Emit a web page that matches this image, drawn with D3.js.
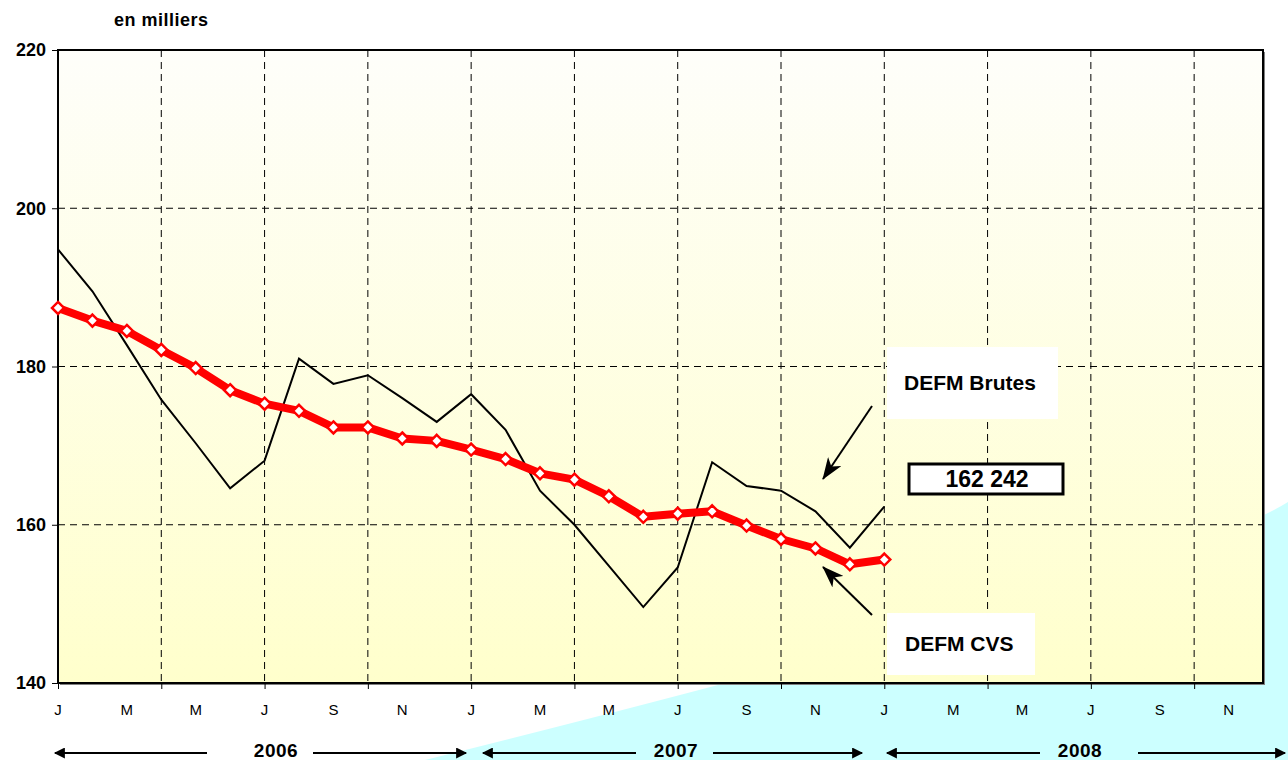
<!DOCTYPE html>
<html>
<head>
<meta charset="utf-8">
<script src="https://cdn.jsdelivr.net/npm/d3@7"></script>
<style>
  html, body { margin: 0; padding: 0; background: #fff; }
  svg { display: block; font-family: Arial, "Liberation Sans", sans-serif; }
</style>
</head>
<body>
<svg id="chart" width="1288" height="760"></svg>
<script>
// DEFM, en milliers — Jan 2006 .. Jan 2008 (monthly), axis runs to Dec 2008
const monthLabels = ["J", "F", "M", "A", "M", "J", "J", "A", "S", "O", "N", "D"];
const years = ["2006", "2007", "2008"];
const yTicks = [140, 160, 180, 200, 220];

const brutes = [194.8, 189.5, 182.7, 175.8, 170.3, 164.6, 168.1, 181.0, 177.8, 178.9, 176.0, 173.0,
  176.5, 172.0, 164.3, 160.0, 154.8, 149.6, 154.6, 167.9, 164.9, 164.3, 161.7, 157.1, 162.3];
const cvs = [187.4, 185.8, 184.5, 182.1, 179.8, 177.0, 175.3, 174.4, 172.3, 172.3, 170.9, 170.6,
  169.5, 168.3, 166.5, 165.7, 163.6, 161.0, 161.4, 161.7, 159.9, 158.2, 157.0, 155.0, 155.6];
const lastValue = "162 242";

const svg = d3.select("#chart");
const M = { left: 58, right: 1263, top: 50, bottom: 683 };

const x = d3.scaleLinear().domain([0, 35]).range([M.left, M.right]);
const y = d3.scaleLinear().domain([140, 220]).range([M.bottom, M.top]);

const defs = svg.append("defs");
const grad = defs.append("linearGradient").attr("id", "bg")
  .attr("x1", 0).attr("y1", 0).attr("x2", 0).attr("y2", 1);
grad.append("stop").attr("offset", "0%").attr("stop-color", "#fefefa");
grad.append("stop").attr("offset", "100%").attr("stop-color", "#ffffcc");

// cyan swoosh behind the plot
svg.append("path")
  .attr("d", "M425,760 Q1174,573 1288,502 L1288,760 Z")
  .attr("fill", "#ccffff");

// plot panel with a soft shadow
svg.append("rect")
  .attr("x", M.left + 2).attr("y", M.top + 2)
  .attr("width", M.right - M.left).attr("height", M.bottom - M.top)
  .attr("fill", "#808080");
svg.append("rect")
  .attr("x", M.left).attr("y", M.top)
  .attr("width", M.right - M.left).attr("height", M.bottom - M.top)
  .attr("fill", "url(#bg)");

// grid
const months = d3.range(0, 36);
svg.append("g").selectAll("line")
  .data(months.filter((m) => m % 3 === 0 && m > 0))
  .join("line")
  .attr("x1", (d) => x(d)).attr("x2", (d) => x(d))
  .attr("y1", M.top).attr("y2", M.bottom)
  .attr("stroke", "#000").attr("stroke-width", 1).attr("stroke-dasharray", "7,5");
svg.append("g").selectAll("line")
  .data(yTicks.filter((v) => v > 140 && v < 220))
  .join("line")
  .attr("x1", M.left).attr("x2", M.right)
  .attr("y1", (d) => y(d)).attr("y2", (d) => y(d))
  .attr("stroke", "#000").attr("stroke-width", 1).attr("stroke-dasharray", "7,5");

// frame
svg.append("rect")
  .attr("x", M.left).attr("y", M.top)
  .attr("width", M.right - M.left).attr("height", M.bottom - M.top)
  .attr("fill", "none").attr("stroke", "#000").attr("stroke-width", 2);

// y axis
const yAxis = d3.axisLeft(y).tickValues(yTicks).tickSize(6).tickPadding(6).tickFormat(d3.format("d"));
const gy = svg.append("g").attr("transform", `translate(${M.left},0)`).call(yAxis);
gy.select(".domain").remove();
gy.selectAll("text").attr("font-size", 18).attr("font-weight", "bold")
  .attr("font-family", "Arial, 'Liberation Sans', sans-serif").attr("fill", "#000");

// x axis: ticks every 3 months, labels every 2 months
const xTicks = d3.axisBottom(x).tickValues(months.filter((m) => m % 3 === 0)).tickSize(6).tickFormat("");
const gx = svg.append("g").attr("transform", `translate(0,${M.bottom})`).call(xTicks);
gx.select(".domain").remove();
svg.append("g").selectAll("text")
  .data(months.filter((m) => m % 2 === 0))
  .join("text")
  .attr("x", (d) => x(d)).attr("y", 715)
  .attr("text-anchor", "middle").attr("font-size", 15).attr("fill", "#000")
  .text((d) => monthLabels[d % 12]);

// year bands with arrows (left tip, left line end, label centre, right line start, right tip)
const yearLayout = [
  [55, 207, 276, 313, 466],
  [483, 636, 676, 713, 862],
  [887, 1040, 1080, 1138, 1285],
];
defs.append("marker").attr("id", "yhead").attr("viewBox", "0 0 10 10")
  .attr("refX", 9).attr("refY", 5).attr("markerWidth", 13).attr("markerHeight", 11)
  .attr("markerUnits", "userSpaceOnUse").attr("orient", "auto-start-reverse")
  .append("path").attr("d", "M0,0 L10,5 L0,10 Z").attr("fill", "#000");

const gYears = svg.append("g");
years.forEach((yr, k) => {
  const [a, b, c, d, e] = yearLayout[k];
  gYears.append("line").attr("x1", a).attr("x2", b).attr("y1", 753).attr("y2", 753)
    .attr("stroke", "#000").attr("stroke-width", 2).attr("marker-start", "url(#yhead)");
  gYears.append("line").attr("x1", d).attr("x2", e).attr("y1", 753).attr("y2", 753)
    .attr("stroke", "#000").attr("stroke-width", 2).attr("marker-end", "url(#yhead)");
  gYears.append("text").attr("x", c).attr("y", 757).attr("text-anchor", "middle")
    .attr("font-size", 19).attr("font-weight", "bold").attr("letter-spacing", 0.5).text(yr);
});

// series
const line = d3.line().x((d, i) => x(i)).y((d) => y(d));
svg.append("path").datum(brutes).attr("d", line)
  .attr("fill", "none").attr("stroke", "#000").attr("stroke-width", 2).attr("stroke-linejoin", "miter");
svg.append("path").datum(cvs).attr("d", line)
  .attr("fill", "none").attr("stroke", "#ff0000").attr("stroke-width", 8).attr("stroke-linejoin", "round");
svg.append("g").selectAll("path")
  .data(cvs)
  .join("path")
  .attr("d", "M0,-6L6,0L0,6L-6,0Z")
  .attr("transform", (d, i) => `translate(${x(i)},${y(d)})`)
  .attr("fill", "#fff").attr("stroke", "#ff0000").attr("stroke-width", 2.5);

// annotations
defs.append("marker").attr("id", "ahead").attr("viewBox", "0 0 22 16")
  .attr("refX", 21).attr("refY", 8).attr("markerWidth", 22).attr("markerHeight", 16)
  .attr("markerUnits", "userSpaceOnUse").attr("orient", "auto")
  .append("path").attr("d", "M0,0 L22,8 L0,16 L6,8 Z").attr("fill", "#000");

svg.append("line").attr("x1", 872).attr("y1", 406).attr("x2", 823).attr("y2", 479)
  .attr("stroke", "#000").attr("stroke-width", 2).attr("marker-end", "url(#ahead)");
svg.append("line").attr("x1", 872).attr("y1", 615).attr("x2", 823).attr("y2", 567)
  .attr("stroke", "#000").attr("stroke-width", 2).attr("marker-end", "url(#ahead)");

svg.append("rect").attr("x", 887).attr("y", 347).attr("width", 171).attr("height", 72).attr("fill", "#fff");
svg.append("text").attr("x", 904).attr("y", 390).attr("font-size", 21).attr("font-weight", "bold").text("DEFM Brutes");

svg.append("rect").attr("x", 887).attr("y", 613).attr("width", 148).attr("height", 62).attr("fill", "#fff");
svg.append("text").attr("x", 905).attr("y", 651).attr("font-size", 21).attr("font-weight", "bold").text("DEFM CVS");

svg.append("rect").attr("x", 909).attr("y", 464).attr("width", 154).attr("height", 30)
  .attr("fill", "#fff").attr("stroke", "#000").attr("stroke-width", 3);
svg.append("text").attr("x", 987).attr("y", 487).attr("text-anchor", "middle")
  .attr("font-size", 23).attr("font-weight", "bold").text(lastValue);

svg.append("text").attr("x", 114).attr("y", 26).attr("font-size", 18).attr("font-weight", "bold")
  .attr("letter-spacing", 0.5).text("en milliers");
</script>
</body>
</html>
